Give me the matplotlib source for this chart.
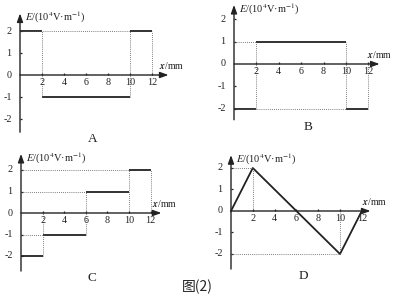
import matplotlib
matplotlib.use("Agg")
import matplotlib.pyplot as plt

plt.rcParams['font.family'] = ['Liberation Serif', 'Noto Sans CJK SC', 'DejaVu Sans']
plt.rcParams['mathtext.fontset'] = 'stix'

# data
A_edges = [0, 2, 10, 12]
A_vals = [2, -1, 2]
B_edges = [0, 2, 10, 12]
B_vals = [-2, 1, -2]
C_edges = [0, 2, 6, 10, 12]
C_vals = [-2, -1, 1, 2]
D_x = [0, 2, 6, 10, 12]
D_y = [0, 2, 0, -2, 0]

x_ticks = [2, 4, 6, 8, 10, 12]
y_ticks = [2, 1, 0, -1, -2]
y_label = r"$E$/(10$^4$V·m$^{-1}$)"
x_label = r"$\mathbfit{x}$/mm"

W, H = 394, 296
INK = '#222222'
GUIDE = '#555555'
fig = plt.figure(figsize=(W / 100, H / 100), dpi=100)
fig.patch.set_facecolor('white')


def make_axes(ox, oy, sx, sy, xmin=-1.5, xmax=15.5, ymin=-3.0, ymax=3.2):
    # origin (ox, oy) in pixels, sx/sy pixels per unit
    left = ox + xmin * sx
    right = ox + xmax * sx
    top = oy - ymax * sy
    bottom = oy - ymin * sy
    ax = fig.add_axes([left / W, 1 - bottom / H, (right - left) / W, (bottom - top) / H])
    ax.set_xlim(xmin, xmax)
    ax.set_ylim(ymin, ymax)
    ax.axis('off')
    return ax


def frame(ax, xend, ytop, ybot, letter, sy, xlab_dx=-7):
    arrow = dict(arrowstyle='-|>,head_length=0.5,head_width=0.18', color=INK, lw=1.0,
                 shrinkA=0, shrinkB=0)
    ax.annotate('', xy=(xend, 0), xytext=(0, 0), arrowprops=arrow)
    ax.annotate('', xy=(0, ytop), xytext=(0, ybot), arrowprops=arrow)
    ax.vlines(x_ticks, 0, 2.0 / sy, color=INK, lw=0.9)
    ax.hlines([t for t in y_ticks if t != 0], 0, 0.2, color=INK, lw=0.9)
    for t in x_ticks:
        ax.annotate(str(t), (t, 0), xytext=(0, -2.5), textcoords='offset points',
                    ha='center', va='top', fontsize=7.3, color=INK)
    for t in y_ticks:
        ax.annotate(str(t), (0, t), xytext=(-6, 0), textcoords='offset points',
                    ha='right', va='center', fontsize=7.3, color=INK)
    ax.annotate(y_label, (0, ytop), xytext=(3.5, -3), textcoords='offset points',
                ha='left', va='center', fontsize=7.5, color=INK)
    ax.annotate(x_label, (xend, 0), xytext=(xlab_dx, 6.5), textcoords='offset points',
                ha='left', va='center', fontsize=7, color=INK)
    ax.text(6.6, ybot - 0.05, letter, ha='center', va='top', fontsize=9.5, color=INK)


def step_panel(ax, edges, vals, skip=()):
    for i, v in enumerate(vals):
        ax.plot([edges[i], edges[i + 1]], [v, v], color=INK, lw=1.3, solid_capstyle='butt')
        if edges[i] > 0 and v not in skip:
            ax.plot([0, edges[i]], [v, v], color=GUIDE, lw=0.6, ls=(0, (1, 1.5)))
    for i, e in enumerate(edges[1:]):
        near = [vals[i], 0]
        if i + 1 < len(vals):
            near.append(vals[i + 1])
        ax.plot([e, e], [min(near), max(near)], color=GUIDE, lw=0.6, ls=(0, (1, 1.5)))


# panel A
axA = make_axes(20, 75, 11.0, 22.0)
frame(axA, 13.5, 2.8, -2.6, 'A', 22.0)
step_panel(axA, A_edges, A_vals, skip=(-1,))

# panel B
axB = make_axes(234, 64, 11.2, 22.3)
frame(axB, 13.0, 2.65, -2.5, 'B', 22.3, xlab_dx=-9)
step_panel(axB, B_edges, B_vals)

# panel C
axC = make_axes(21, 213, 10.8, 21.5)
frame(axC, 13.0, 2.75, -2.7, 'C', 21.5)
step_panel(axC, C_edges, C_vals)

# panel D
axD = make_axes(231, 211, 10.9, 21.5)
frame(axD, 12.8, 2.6, -2.7, 'D', 21.5, xlab_dx=-6)
axD.plot(D_x, D_y, color=INK, lw=1.3)
for x, y in zip(D_x, D_y):
    if y != 0:
        axD.plot([x, x], [0, y], color=GUIDE, lw=0.6, ls=(0, (1, 1.5)))
        axD.plot([0, x], [y, y], color=GUIDE, lw=0.6, ls=(0, (1, 1.5)))

fig.text(197 / W, 1 - 287 / H, "图(2)", ha='center', va='center', fontsize=10, color=INK,
         family=['Noto Sans CJK SC', 'DejaVu Sans'])

fig.savefig('out.png', dpi=100, facecolor='white')
